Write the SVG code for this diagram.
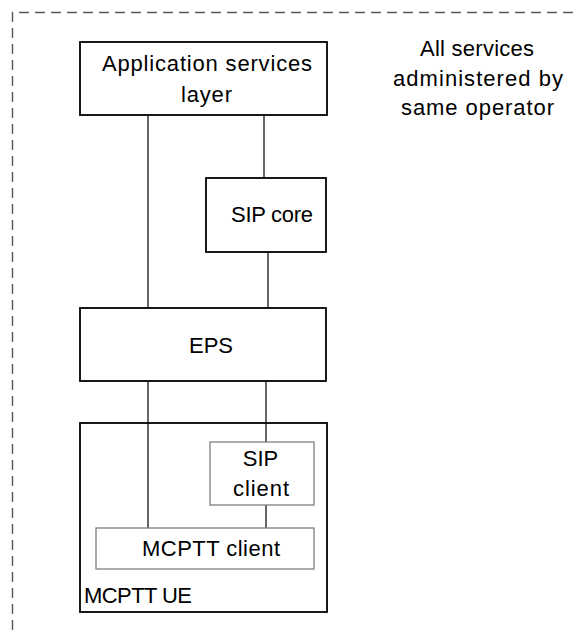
<svg xmlns="http://www.w3.org/2000/svg" width="576" height="630" viewBox="0 0 576 630">
<style>
  .box { fill: #fff; stroke: #000; stroke-width: 1.8; }
  .inner { fill: #fff; stroke: #7f7f7f; stroke-width: 1.3; }
  .conn { stroke: #000; stroke-width: 1.2; fill: none; }
  .border { stroke: #555; stroke-width: 1.4; fill: none; stroke-dasharray: 10 6; }
  text { font-family: "Liberation Sans", Arial, sans-serif; font-size: 22px; fill: #000; }
</style>
<rect width="576" height="630" fill="#fff"/>
<path class="border" d="M12.5 630 V12.5 H576"/>
<g id="note">
  <text x="420" y="56" textLength="114" lengthAdjust="spacing">All services</text>
  <text x="393" y="86" textLength="170" lengthAdjust="spacing">administered by</text>
  <text x="401" y="115" textLength="153" lengthAdjust="spacing">same operator</text>
</g>
<g id="connectors">
  <line class="conn" x1="148" y1="115" x2="148" y2="308"/>
  <line class="conn" x1="264" y1="115" x2="264" y2="178"/>
  <line class="conn" x1="268" y1="252" x2="268" y2="308"/>
  <line class="conn" x1="148" y1="381" x2="148" y2="528"/>
  <line class="conn" x1="266" y1="381" x2="266" y2="442"/>
  <line class="conn" x1="266" y1="505" x2="266" y2="528"/>
</g>
<g id="app">
  <rect class="box" x="80" y="42" width="247" height="73"/>
  <text x="102" y="71" textLength="210" lengthAdjust="spacing">Application services</text>
  <text x="181" y="102" textLength="51" lengthAdjust="spacing">layer</text>
</g>
<g id="sipcore">
  <rect class="box" x="206" y="178" width="120" height="74"/>
  <text x="231" y="222" textLength="82" lengthAdjust="spacing">SIP core</text>
</g>
<g id="eps">
  <rect class="box" x="80" y="308" width="246" height="73"/>
  <text x="211" y="353" text-anchor="middle">EPS</text>
</g>
<g id="ue">
  <rect class="box" x="80" y="423" width="247" height="189" style="fill:none"/>
  <text x="84" y="603" textLength="108" lengthAdjust="spacing">MCPTT UE</text>
</g>
<g id="sipclient">
  <rect class="inner" x="210" y="442" width="104" height="63"/>
  <text x="260.5" y="466" text-anchor="middle">SIP</text>
  <text x="233" y="496" textLength="56" lengthAdjust="spacing">client</text>
</g>
<g id="mcpttclient">
  <rect class="inner" x="96" y="528" width="218" height="41"/>
  <text x="142" y="556" textLength="138" lengthAdjust="spacing">MCPTT client</text>
</g>
</svg>
